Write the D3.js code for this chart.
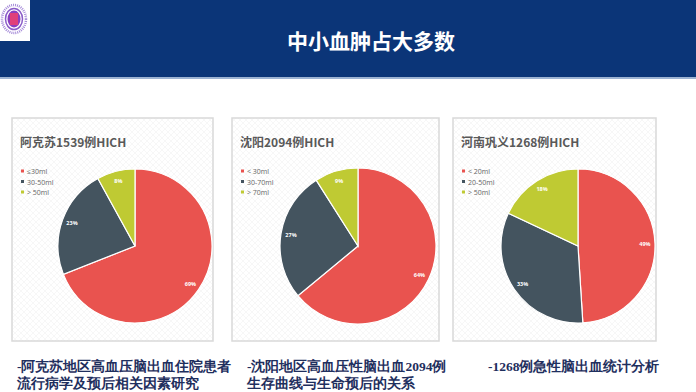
<!DOCTYPE html>
<html><head><meta charset="utf-8">
<script src="https://cdn.jsdelivr.net/npm/d3@7"></script>
<style>
html,body{margin:0;padding:0;background:#fff;}
svg{display:block;}
</style></head>
<body>
<svg id="c" width="696" height="392"></svg>
<script>
const pageTitle = "中小血肿占大多数";
const chartTitles = ["阿克苏1539例HICH", "沈阳2094例HICH", "河南巩义1268例HICH"];
const legendLabels = [
  ["≤30ml", "30-50ml", "> 50ml"],
  ["< 30ml", "30-70ml", "> 70ml"],
  ["< 20ml", "20-50ml", "> 50ml"]
];
const sliceValues = [
  [69, 23, 8],
  [64, 27, 9],
  [49, 33, 18]
];
const captions = [
  ["-阿克苏地区高血压脑出血住院患者", "流行病学及预后相关因素研究"],
  ["-沈阳地区高血压性脑出血2094例", "生存曲线与生命预后的关系"],
  ["-1268例急性脑出血统计分析"]
];
const colors = ["#E9534F", "#44545F", "#BFCA33"];

const svg = d3.select("#c");
const defs = svg.append("defs");
const pat = defs.append("pattern").attr("id","hatch").attr("width",6).attr("height",6)
  .attr("patternUnits","userSpaceOnUse");
pat.append("rect").attr("width",6).attr("height",6).attr("fill","#fff");
pat.append("path").attr("d","M0,0L6,6M6,0L0,6").attr("stroke","#f1f1f1").attr("stroke-width",0.6);

// header
svg.append("rect").attr("x",0).attr("y",0).attr("width",696).attr("height",77).attr("fill","#0B3578");
svg.append("rect").attr("x",0).attr("y",77).attr("width",696).attr("height",2).attr("fill","#9DB3D3");
svg.append("text").attr("x",371).attr("y",49).attr("text-anchor","middle")
  .attr("font-family","Noto Sans CJK SC").attr("font-weight","bold").attr("font-size",21)
  .attr("fill","#fff").text(pageTitle);
// logo
const logo = svg.append("g");
logo.append("rect").attr("x",0).attr("y",0).attr("width",30).attr("height",41).attr("fill","#fff");
logo.append("ellipse").attr("cx",14).attr("cy",19).attr("rx",12).attr("ry",14).attr("fill","none").attr("stroke","#a58ad8").attr("stroke-width",2.5).attr("stroke-dasharray","1,1");
logo.append("ellipse").attr("cx",14).attr("cy",19).attr("rx",8.5).attr("ry",10.5).attr("fill","#fff").attr("stroke","#8a5cc8").attr("stroke-width",1.5);
logo.append("ellipse").attr("cx",14).attr("cy",19).attr("rx",6.5).attr("ry",8.5).attr("fill","#8a3fc0");
logo.append("rect").attr("x",10).attr("y",13).attr("width",8).attr("height",12).attr("fill","#e0407a");

const panels = [
  {x:12, w:201, cx:135, r:77},
  {x:232, w:207, cx:358, r:78},
  {x:453, w:203, cx:578, r:77}
];
const panelY = 118, panelH = 223, cy = 246;

panels.forEach((p, i) => {
  const g = svg.append("g");
  g.append("rect").attr("x",p.x).attr("y",panelY).attr("width",p.w).attr("height",panelH)
    .attr("fill","url(#hatch)").attr("stroke","#d9d9d9").attr("stroke-width",1.5);
  g.append("text").attr("x",p.x+8).attr("y",147)
    .attr("font-family","Noto Sans CJK SC").attr("font-weight","bold").attr("font-size",12)
    .attr("fill","#595959").text(chartTitles[i]);
  legendLabels[i].forEach((l, j) => {
    const ly = 172 + j*10.5;
    g.append("rect").attr("x",p.x+9).attr("y",ly-2.5).attr("width",3).attr("height",3).attr("fill",colors[j]);
    g.append("text").attr("x",p.x+15).attr("y",ly+2.3).attr("font-family","Open Sans, Noto Sans CJK SC")
      .attr("font-size",7).attr("fill","#666").text(l);
  });
  const pie = d3.pie().sort(null)(sliceValues[i]);
  const arc = d3.arc().innerRadius(0).outerRadius(p.r);
  const labelArc = d3.arc().innerRadius(p.r*0.87).outerRadius(p.r*0.87);
  const pg = g.append("g").attr("transform",`translate(${p.cx},${cy})`);
  pg.selectAll("path").data(pie).join("path").attr("d",arc)
    .attr("fill",(d,j)=>colors[j]).attr("stroke","#fff").attr("stroke-width",1.2);
  pg.selectAll("text").data(pie).join("text")
    .attr("transform",d=>`translate(${labelArc.centroid(d)})`)
    .attr("text-anchor","middle").attr("dy","0.35em")
    .attr("font-family","Open Sans").attr("font-weight","bold").attr("font-size",5.5)
    .attr("fill","#fff").text(d=>d.data+"%");
});

const capX = [17, 247, 488];
captions.forEach((c, i) => {
  c.forEach((line, k) => {
    svg.append("text").attr("x",capX[i]).attr("y",371 + k*16.5)
      .attr("font-family","serif").attr("font-weight","bold").attr("font-size",13.5)
      .attr("fill","#1F2F5E").text(line);
  });
});
</script>
</body></html>
